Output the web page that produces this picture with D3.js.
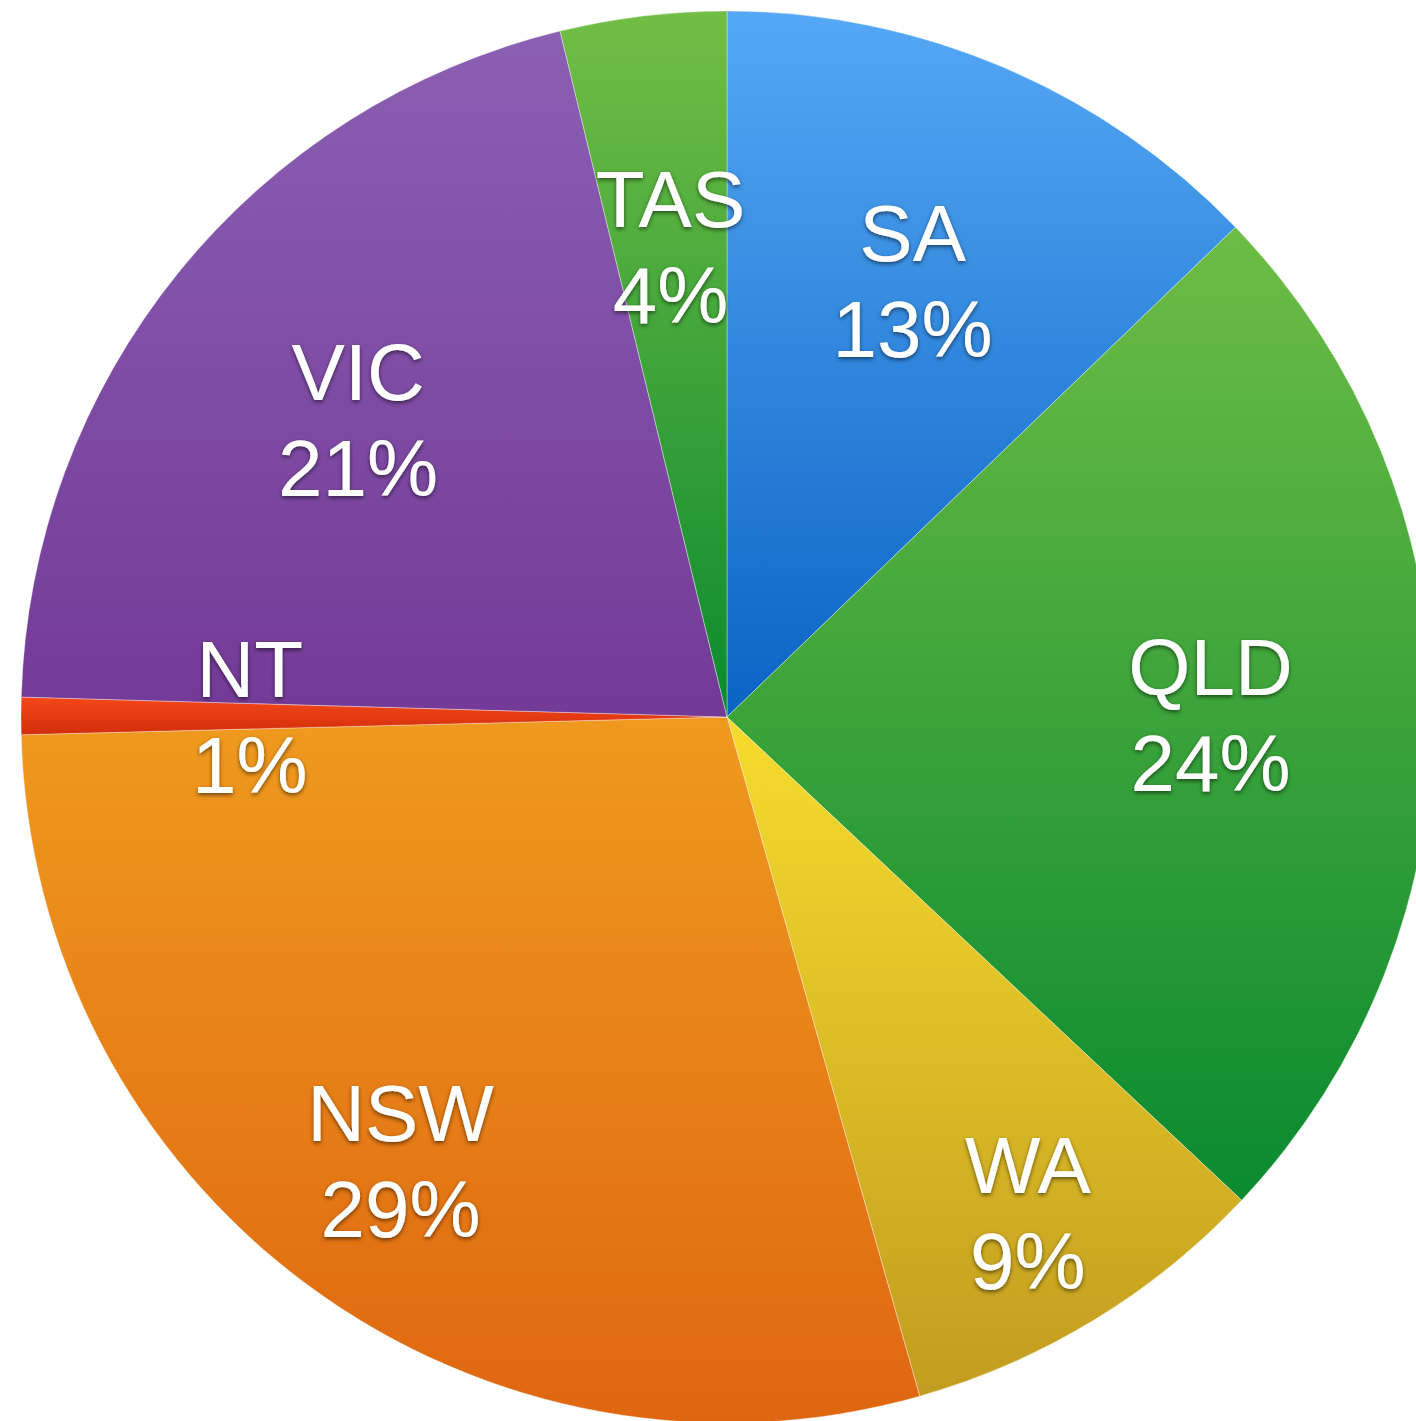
<!DOCTYPE html>
<html>
<head>
<meta charset="utf-8">
<script src="https://cdn.jsdelivr.net/npm/d3@7"></script>
<style>
  html, body { margin: 0; padding: 0; background: #fff; }
  svg { display: block; }
</style>
</head>
<body>
<div id="chart"></div>
<script>
// Pie chart of share by state, clockwise from 12 o'clock
const states = ['SA', 'QLD', 'WA', 'NSW', 'NT', 'VIC', 'TAS'];
const shares = [12.8, 24.2, 8.6, 29.0, 0.85, 20.75, 3.8];
const shareLabels = ['13%', '24%', '9%', '29%', '1%', '21%', '4%'];

// top / bottom colour of each slice's vertical gradient
const topColors = ['#55a8f5', '#6dbd45', '#f6dc2d', '#ef9a1e', '#f5481a', '#8b5fb3', '#72be45'];
const bottomColors = ['#0a64c4', '#0a8a2f', '#c29c1f', '#df6610', '#d22e0a', '#733a97', '#0b8a2f'];

const CONFIG = {
  width: 1416,
  height: 1421,
  cx: 727,
  cy: 717,
  radius: 706,
  fontSize: 80,
  lineHeight: 96,
  labelRadius: 0.672,
  // a few labels sit further out than the rest
  labelRadiusOverride: { QLD: 0.685, WA: 0.82, NSW: 0.78, NT: 0.676 }
};

const data = states.map((s, i) => ({
  state: s,
  value: shares[i],
  label: shareLabels[i],
  top: topColors[i],
  bottom: bottomColors[i]
}));

const svg = d3.select('#chart')
  .append('svg')
  .attr('width', CONFIG.width)
  .attr('height', CONFIG.height);

const defs = svg.append('defs');

data.forEach((d, i) => {
  const grad = defs.append('linearGradient')
    .attr('id', 'grad' + i)
    .attr('x1', 0).attr('y1', 0)
    .attr('x2', 0).attr('y2', 1);
  grad.append('stop').attr('offset', '0%').attr('stop-color', d.top);
  grad.append('stop').attr('offset', '100%').attr('stop-color', d.bottom);
});

const shadow = defs.append('filter')
  .attr('id', 'textShadow')
  .attr('x', '-20%').attr('y', '-20%')
  .attr('width', '140%').attr('height', '140%');
shadow.append('feDropShadow')
  .attr('dx', 0)
  .attr('dy', 2)
  .attr('stdDeviation', 2)
  .attr('flood-color', '#000')
  .attr('flood-opacity', 0.55);

const g = svg.append('g')
  .attr('transform', `translate(${CONFIG.cx}, ${CONFIG.cy})`);

const pie = d3.pie()
  .sort(null)
  .value(d => d.value);

const arc = d3.arc()
  .innerRadius(0)
  .outerRadius(CONFIG.radius);

const arcs = pie(data);

g.selectAll('path.slice')
  .data(arcs)
  .enter()
  .append('path')
  .attr('class', 'slice')
  .attr('d', arc)
  .attr('fill', (d, i) => `url(#grad${i})`)
  .attr('stroke', 'rgba(255,255,255,0.35)')
  .attr('stroke-width', 1);

// Labels
const labels = g.selectAll('g.label')
  .data(arcs)
  .enter()
  .append('g')
  .attr('class', 'label')
  .attr('transform', d => {
    const a = (d.startAngle + d.endAngle) / 2;
    const k = CONFIG.labelRadiusOverride[d.data.state] || CONFIG.labelRadius;
    const r = CONFIG.radius * k;
    return `translate(${Math.sin(a) * r}, ${-Math.cos(a) * r})`;
  })
  .attr('filter', 'url(#textShadow)');

labels.append('text')
  .attr('text-anchor', 'middle')
  .attr('y', -19)
  .style('font-family', '"Liberation Sans", Arial, Helvetica, sans-serif')
  .style('font-size', CONFIG.fontSize + 'px')
  .style('fill', '#fff')
  .text(d => d.data.state);

labels.append('text')
  .attr('text-anchor', 'middle')
  .attr('y', -19 + CONFIG.lineHeight)
  .style('font-family', '"Liberation Sans", Arial, Helvetica, sans-serif')
  .style('font-size', CONFIG.fontSize + 'px')
  .style('fill', '#fff')
  .text(d => d.data.label);
</script>
</body>
</html>
